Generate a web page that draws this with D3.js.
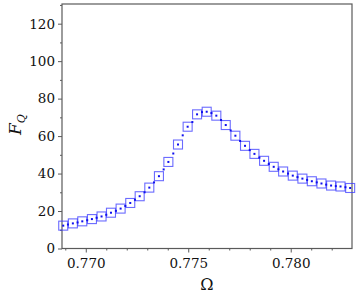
<!DOCTYPE html>
<html>
<head>
<meta charset="utf-8">
<script src="https://cdn.jsdelivr.net/npm/d3@7"></script>
<style>
  body { margin: 0; background: #fff; }
  svg { display: block; }
  svg text { font-family: "DejaVu Serif", serif; }
</style>
</head>
<body>
<div class="chart"></div>
<script>
// squares: sampled points
var omega = [0.76890, 0.76937, 0.76983, 0.77030, 0.77077, 0.77123, 0.77170, 0.77217,
  0.77263, 0.77310, 0.77357, 0.77403, 0.77450, 0.77497, 0.77543, 0.77590, 0.77637,
  0.77683, 0.77730, 0.77777, 0.77823, 0.77870, 0.77917, 0.77963, 0.78010, 0.78057,
  0.78103, 0.78150, 0.78197, 0.78243, 0.78290];
var fq = [12.2, 13.4, 14.5, 15.7, 17.1, 19.1, 21.3, 24.3, 27.9, 32.5, 38.6, 46.2, 55.5,
  65.0, 71.6, 73.0, 70.9, 65.9, 60.2, 54.8, 50.5, 46.8, 43.6, 41.1, 38.9, 37.3, 35.9,
  34.7, 33.6, 33.1, 32.3];
// small dots in between
var omegaMid = [0.76913, 0.76960, 0.77007, 0.77053, 0.77100, 0.77147, 0.77193, 0.77240,
  0.77287, 0.77333, 0.77380, 0.77427, 0.77473, 0.77520, 0.77567, 0.77613, 0.77660,
  0.77707, 0.77753, 0.77800, 0.77847, 0.77893, 0.77940, 0.77987, 0.78033, 0.78080,
  0.78127, 0.78173, 0.78220, 0.78267];
var fqMid = [12.8, 13.9, 15.1, 16.4, 18.0, 20.1, 22.7, 26.0, 30.0, 35.3, 42.2, 50.7, 60.4,
  67.5, 72.8, 72.3, 68.6, 63.0, 57.4, 52.5, 48.5, 45.1, 42.3, 40.0, 38.1, 36.6, 35.3,
  34.1, 33.3, 32.7];

var xMajor = [0.770, 0.775, 0.780];
var xMinor = [0.769, 0.771, 0.772, 0.773, 0.774, 0.776, 0.777, 0.778, 0.779, 0.781, 0.782];
var yMajor = [0, 20, 40, 60, 80, 100, 120];
var yMinor = [10, 30, 50, 70, 90, 110, 130];

var w = 357, h = 298;
var pLeft = 62, pRight = 352, pTop = 4, pBottom = 248.5;
var frameColor = "#5a5a5a";

var svg = d3.select(".chart").append("svg")
  .attr("width", w)
  .attr("height", h);

var x = d3.scaleLinear().domain([0.76884, 0.78299]).range([pLeft, pRight]);
var y = d3.scaleLinear().domain([0, 130.5]).range([pBottom, pTop]);

// frame
svg.append("rect")
  .attr("x", pLeft).attr("y", pTop)
  .attr("width", pRight - pLeft).attr("height", pBottom - pTop)
  .attr("fill", "none")
  .attr("stroke", frameColor)
  .attr("stroke-width", 1.2);

// x axis
var xAxis = svg.append("g").attr("transform", "translate(0," + pBottom + ")");
xAxis.call(d3.axisBottom(x).tickValues(xMajor).tickSize(4).tickPadding(6)
  .tickFormat(d3.format(".3f")));
var xAxisMinor = svg.append("g").attr("transform", "translate(0," + pBottom + ")");
xAxisMinor.call(d3.axisBottom(x).tickValues(xMinor).tickSize(2).tickFormat(""));

// y axis
var yAxis = svg.append("g").attr("transform", "translate(" + pLeft + ",0)");
yAxis.call(d3.axisLeft(y).tickValues(yMajor).tickSize(4).tickPadding(3)
  .tickFormat(d3.format("d")));
var yAxisMinor = svg.append("g").attr("transform", "translate(" + pLeft + ",0)");
yAxisMinor.call(d3.axisLeft(y).tickValues(yMinor).tickSize(2).tickFormat(""));

svg.selectAll(".domain").remove();
svg.selectAll("g").attr("font-family", null);
svg.selectAll(".tick line").attr("stroke", frameColor);
svg.selectAll(".tick text")
  .attr("fill", "#111")
  .style("font-size", "13.5px");

// squares
var s = 9;
svg.append("g").selectAll("rect")
  .data(fq)
  .enter()
  .append("rect")
  .attr("x", function(d, i) { return x(omega[i]) - s / 2; })
  .attr("y", function(d) { return y(d) - s / 2; })
  .attr("width", s)
  .attr("height", s)
  .attr("fill", "none")
  .attr("stroke", "#3a3aff")
  .attr("stroke-opacity", 0.75)
  .attr("stroke-width", 1.1);

// dots at square centres and between
svg.append("g").selectAll("rect")
  .data(fq)
  .enter()
  .append("rect")
  .attr("x", function(d, i) { return x(omega[i]) - 1; })
  .attr("y", function(d) { return y(d) - 1; })
  .attr("width", 2).attr("height", 2)
  .attr("fill", "#1010ee");
svg.append("g").selectAll("rect")
  .data(fqMid)
  .enter()
  .append("rect")
  .attr("x", function(d, i) { return x(omegaMid[i]) - 1; })
  .attr("y", function(d) { return y(d) - 1; })
  .attr("width", 2).attr("height", 2)
  .attr("fill", "#1010ee");

// axis labels
svg.append("text")
  .attr("x", 207)
  .attr("y", 290)
  .attr("text-anchor", "middle")
  .style("font-size", "16px")
  .attr("fill", "#111")
  .text("Ω");

var yl = svg.append("text")
  .attr("transform", "translate(21,135) rotate(-90)")
  .attr("fill", "#111");
yl.append("tspan")
  .style("font-style", "italic")
  .style("font-size", "17px")
  .text("F");
yl.append("tspan")
  .style("font-style", "italic")
  .style("font-size", "11px")
  .attr("dy", 4)
  .text("Q");
</script>
</body>
</html>
